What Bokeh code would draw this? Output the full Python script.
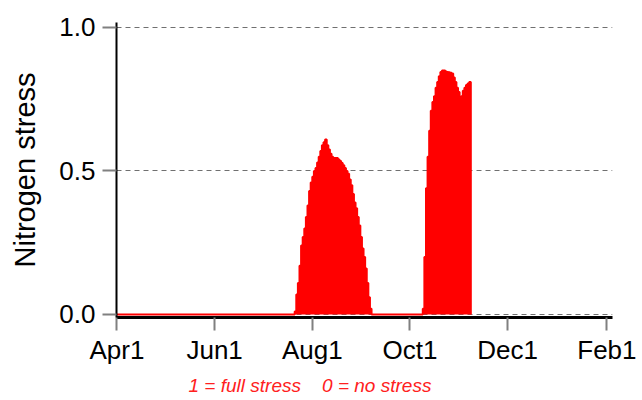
from bokeh.plotting import figure
from bokeh.models import FixedTicker, Title, Range1d, NumeralTickFormatter
from bokeh.embed import file_html
from bokeh.resources import INLINE

# x axis: days since Apr 1
tick_days = [0, 61, 122, 183, 244, 306]
tick_labels = ["Apr1", "Jun1", "Aug1", "Oct1", "Dec1", "Feb1"]
y_ticks = [0.0, 0.5, 1.0]

# Nitrogen stress series (day since Apr 1, stress index)
days = [0, 110,
        111, 112, 113, 114, 115, 116, 117, 118, 119, 120,
        121, 122, 123, 124, 125, 126, 127, 128, 129, 130,
        131, 132, 133, 134, 135, 136, 137, 138, 139, 140,
        141, 142, 143, 144, 145, 146, 147, 148, 149, 150,
        151, 152, 153, 154, 155, 156, 157, 158, 159,
        190,
        191, 192, 193, 194, 195, 196, 197, 198, 199, 200,
        201, 202, 203, 204, 205, 206, 207, 208, 209, 210,
        211, 212, 213, 214, 215, 216, 217, 218, 219, 220,
        221]
stress = [0.0, 0.0,
          0.01, 0.07, 0.11, 0.17, 0.24, 0.27, 0.30, 0.34, 0.38, 0.43,
          0.46, 0.48, 0.50, 0.51, 0.53, 0.55, 0.57, 0.59, 0.60, 0.61,
          0.59, 0.575, 0.56, 0.55, 0.545, 0.545, 0.545, 0.54, 0.535, 0.528,
          0.52, 0.51, 0.50, 0.49, 0.47, 0.45, 0.42, 0.39, 0.37, 0.34,
          0.31, 0.27, 0.23, 0.20, 0.16, 0.11, 0.06, 0.02, 0.0,
          0.0,
          0.02, 0.20, 0.44, 0.55, 0.64, 0.71, 0.74, 0.76, 0.79, 0.81,
          0.83, 0.845, 0.85, 0.85, 0.847, 0.845, 0.844, 0.842, 0.84, 0.826,
          0.81, 0.79, 0.775, 0.757, 0.76, 0.78, 0.79, 0.80, 0.805, 0.81,
          0.0]

footnote = "1 = full stress\u00a0\u00a0\u00a0\u00a00 = no stress"
FONT = "Liberation Sans"

p = figure(width=642, height=400, output_backend="svg", toolbar_location=None,
           x_range=Range1d(-0.3, 309.5), y_range=Range1d(-0.0105, 1.0174),
           min_border_left=116, min_border_top=22, min_border_right=30,
           min_border_bottom=83)
p.outline_line_color = None
p.background_fill_color = "white"
p.border_fill_color = "white"

p.xgrid.visible = False
p.ygrid.ticker = FixedTicker(ticks=y_ticks)
p.ygrid.grid_line_color = "#707070"
p.ygrid.grid_line_dash = "5 4"
p.ygrid.grid_line_width = 1

p.varea_step(x=days, y1=0, y2=stress, step_mode="after", fill_color="#ff0000")
p.step(days, stress, mode="after", line_color="#ff0000", line_width=2)

# x axis
xa = p.xaxis[0]
xa.ticker = FixedTicker(ticks=tick_days)
xa.major_label_overrides = {d: l for d, l in zip(tick_days, tick_labels)}
xa.axis_line_color = "black"
xa.axis_line_width = 3
xa.major_tick_line_color = "#808080"
xa.major_tick_line_width = 2
xa.major_tick_out = 13
xa.major_tick_in = 0
xa.minor_tick_line_color = None
xa.major_label_text_font = FONT
xa.major_label_text_font_size = "26px"
xa.major_label_text_color = "black"
xa.major_label_standoff = 4

# y axis
ya = p.yaxis[0]
ya.ticker = FixedTicker(ticks=y_ticks)
ya.formatter = NumeralTickFormatter(format="0.0")
ya.axis_line_color = "black"
ya.axis_line_width = 2
ya.major_tick_line_color = "#808080"
ya.major_tick_line_width = 2
ya.major_tick_out = 14
ya.major_tick_in = 0
ya.minor_tick_line_color = None
ya.major_label_text_font = FONT
ya.major_label_text_font_size = "26px"
ya.major_label_text_color = "black"
ya.major_label_standoff = 7
ya.axis_label = "Nitrogen stress"
ya.axis_label_text_font = FONT
ya.axis_label_text_font_size = "29px"
ya.axis_label_text_font_style = "normal"
ya.axis_label_text_color = "black"
ya.axis_label_standoff = 15

p.add_layout(Title(text=footnote, text_color="#ff2020", text_font_style="italic",
                   text_font_size="19px", text_font=FONT, align="left",
                   offset=72, standoff=10), "below")

open("out.html", "w").write(file_html(p, INLINE))
